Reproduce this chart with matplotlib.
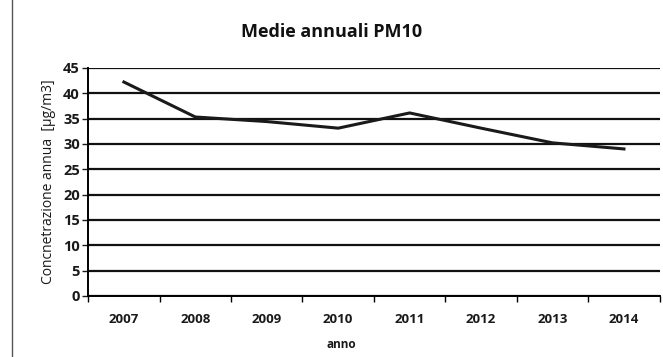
import matplotlib.pyplot as plt
from matplotlib.lines import Line2D

plt.rcParams['font.family'] = ['Open Sans', 'DejaVu Sans']

# annual mean PM10 values
anni = ['2007', '2008', '2009', '2010', '2011', '2012', '2013', '2014']
pm10 = [42.2, 35.3, 34.4, 33.1, 36.1, 33.1, 30.2, 29.0]
yticks = [0, 5, 10, 15, 20, 25, 30, 35, 40, 45]

fig = plt.figure(figsize=(6.63, 3.57), dpi=100)
ax = fig.add_axes([0.133, 0.171, 0.862, 0.639])

x = list(range(len(anni)))
ax.plot(x, pm10, color='#1a1a1a', linewidth=2.2, zorder=3)

ax.set_xlim(-0.5, len(anni) - 0.5)
ax.set_ylim(0, 45)
ax.set_yticks(yticks)
ax.set_xticks(x)
ax.set_xticklabels(anni, fontsize=9.5, fontweight='bold', color='#1a1a1a')
ax.set_xticks([i - 0.5 for i in range(len(anni) + 1)], minor=True)
ax.tick_params(axis='x', which='major', length=0, pad=12)
ax.tick_params(axis='x', which='minor', length=4, direction='out', width=1)
ax.tick_params(axis='y', labelsize=10.5, length=4, width=1, colors='#1a1a1a', pad=2)
for lab in ax.get_yticklabels():
    lab.set_fontweight('bold')

ax.grid(axis='y', color='#111111', linewidth=1.6)
for s in ['top', 'right']:
    ax.spines[s].set_visible(False)
ax.spines['left'].set_linewidth(1.4)
ax.spines['bottom'].set_linewidth(1.4)

ax.set_ylabel('Concnetrazione annua  [\u03bcg/m3]', fontsize=10, color='#1a1a1a', labelpad=5)
fig.text(0.515, 0.035, 'anno', ha='center', va='center',
         fontsize=8.5, fontweight='bold', color='#1a1a1a')
fig.text(0.5, 0.91, 'Medie annuali PM10', ha='center', va='center',
         fontsize=13, fontweight='bold', color='#111111')

# left edge of the scanned chart frame
fig.lines.append(Line2D([0.018, 0.018], [0, 1], transform=fig.transFigure,
                        color='#555555', linewidth=1))

fig.savefig('out.png', dpi=100)
